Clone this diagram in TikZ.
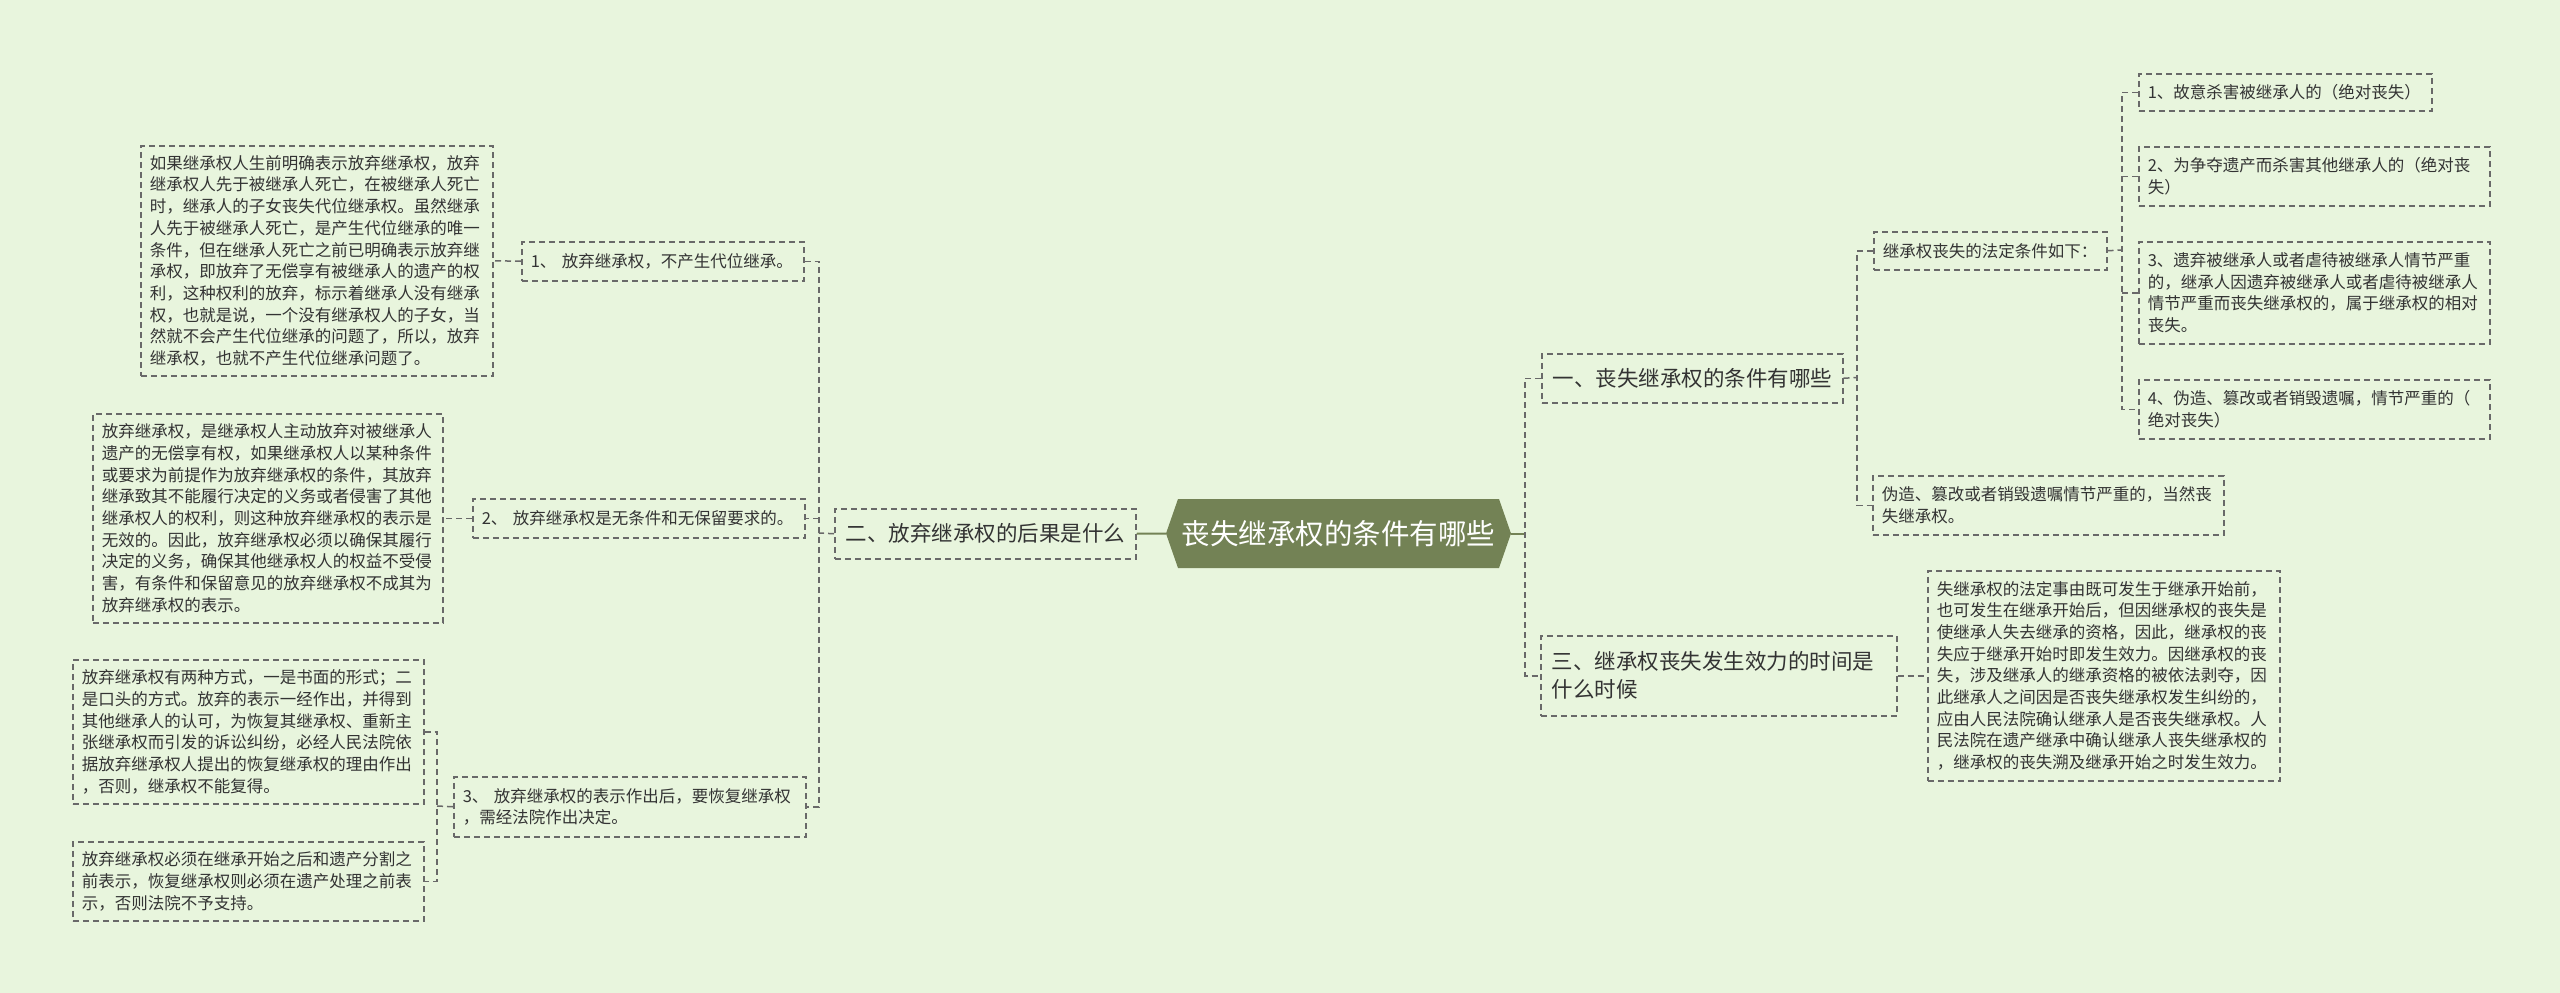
\documentclass[tikz,border=0pt]{standalone}
\usepackage{fontspec}
\setmainfont{Noto Sans CJK SC}
\definecolor{bgc}{RGB}{232,245,221}
\definecolor{hexc}{RGB}{115,130,85}
\definecolor{linec}{RGB}{105,105,105}
\definecolor{txt}{RGB}{51,51,51}
\begin{document}
\begin{tikzpicture}[x=1pt,y=-1pt,
  conn/.style={draw=linec, line width=1.5pt, dash pattern=on 6pt off 4pt},
  rootline/.style={draw=hexc, line width=2pt},
  bx/.style={draw=linec, line width=1.5pt, dash pattern=on 6pt off 4pt, anchor=north west, inner xsep=9pt, inner ysep=0pt, align=left, text=txt},
  sm/.style={bx, font=\fontsize{16.5}{21.7}\selectfont},
  md/.style={bx, inner xsep=11pt, font=\fontsize{21.5}{28}\selectfont}
]
\fill[bgc] (0,0) rectangle (2560,993);
\useasboundingbox (0,0) rectangle (2560,993);

% root
\fill[hexc] (1166,533.5) -- (1178,499) -- (1499,499) -- (1511,533.5) -- (1499,568) -- (1178,568) -- cycle;
\node[font=\fontsize{28.5}{34}\selectfont, text=white, minimum width=345pt, minimum height=69pt, inner sep=0pt] (root) at (1338.5,533.5) {丧失继承权的条件有哪些};

% left branch
\node[md, minimum width=301pt, minimum height=50pt, text width=279pt] (L) at (834,508) {二、放弃继承权的后果是什么};
\node[sm, minimum width=282pt, minimum height=39pt, text width=264pt] (L1) at (521,241) {1、~放弃继承权，不产生代位继承。};
\node[sm, minimum width=352pt, minimum height=230pt, text width=334pt] (L1c) at (140,145) {如果继承权人生前明确表示放弃继承权，放弃\\继承权人先于被继承人死亡，在被继承人死亡\\时，继承人的子女丧失代位继承权。虽然继承\\人先于被继承人死亡，是产生代位继承的唯一\\条件，但在继承人死亡之前已明确表示放弃继\\承权，即放弃了无偿享有被继承人的遗产的权\\利，这种权利的放弃，标示着继承人没有继承\\权，也就是说，一个没有继承权人的子女，当\\然就不会产生代位继承的问题了，所以，放弃\\继承权，也就不产生代位继承问题了。};
\node[sm, minimum width=332pt, minimum height=39pt, text width=314pt] (L2) at (472,498) {2、~放弃继承权是无条件和无保留要求的。};
\node[sm, minimum width=350pt, minimum height=209pt, text width=332pt] (L2c) at (92,413) {放弃继承权，是继承权人主动放弃对被继承人\\遗产的无偿享有权，如果继承权人以某种条件\\或要求为前提作为放弃继承权的条件，其放弃\\继承致其不能履行决定的义务或者侵害了其他\\继承权人的权利，则这种放弃继承权的表示是\\无效的。因此，放弃继承权必须以确保其履行\\决定的义务，确保其他继承权人的权益不受侵\\害，有条件和保留意见的放弃继承权不成其为\\放弃继承权的表示。};
\node[sm, minimum width=352pt, minimum height=60pt, text width=334pt] (L3) at (453,776) {3、~放弃继承权的表示作出后，要恢复继承权\\，需经法院作出决定。};
\node[sm, minimum width=351pt, minimum height=144pt, text width=333pt] (L3a) at (72,659) {放弃继承权有两种方式，一是书面的形式；二\\是口头的方式。放弃的表示一经作出，并得到\\其他继承人的认可，为恢复其继承权、重新主\\张继承权而引发的诉讼纠纷，必经人民法院依\\据放弃继承权人提出的恢复继承权的理由作出\\，否则，继承权不能复得。};
\node[sm, minimum width=351pt, minimum height=79pt, text width=333pt] (L3b) at (72,841) {放弃继承权必须在继承开始之后和遗产分割之\\前表示，恢复继承权则必须在遗产处理之前表\\示，否则法院不予支持。};

% right branch
\node[md, minimum width=301pt, minimum height=49pt, text width=279pt] (R1) at (1541,353) {一、丧失继承权的条件有哪些};
\node[md, minimum width=356pt, minimum height=80pt, text width=334pt] (R3) at (1540,635) {三、继承权丧失发生效力的时间是\\什么时候};
\node[sm, minimum width=352pt, minimum height=210pt, text width=334pt] (R3c) at (1927,570) {失继承权的法定事由既可发生于继承开始前，\\也可发生在继承开始后，但因继承权的丧失是\\使继承人失去继承的资格，因此，继承权的丧\\失应于继承开始时即发生效力。因继承权的丧\\失，涉及继承人的继承资格的被依法剥夺，因\\此继承人之间因是否丧失继承权发生纠纷的，\\应由人民法院确认继承人是否丧失继承权。人\\民法院在遗产继承中确认继承人丧失继承权的\\，继承权的丧失溯及继承开始之时发生效力。};
\node[sm, minimum width=233pt, minimum height=38pt, text width=215pt] (R1a) at (1873,231) {继承权丧失的法定条件如下：};
\node[sm, minimum width=351pt, minimum height=59pt, text width=333pt] (R1b) at (1872,475) {伪造、篡改或者销毁遗嘱情节严重的，当然丧\\失继承权。};
\node[sm, minimum width=293pt, minimum height=37pt, text width=275pt] (a1) at (2138,73) {1、故意杀害被继承人的（绝对丧失）};
\node[sm, minimum width=351pt, minimum height=59pt, text width=333pt] (a2) at (2138,146) {2、为争夺遗产而杀害其他继承人的（绝对丧\\失）};
\node[sm, minimum width=351pt, minimum height=102pt, text width=333pt] (a3) at (2138,241) {3、遗弃被继承人或者虐待被继承人情节严重\\的，继承人因遗弃被继承人或者虐待被继承人\\情节严重而丧失继承权的，属于继承权的相对\\丧失。};
\node[sm, minimum width=351pt, minimum height=59pt, text width=333pt] (a4) at (2138,379) {4、伪造、篡改或者销毁遗嘱，情节严重的（\\绝对丧失）};

% connectors left
\coordinate (tL) at (819,533);
\draw[rootline] (root.west) -- (L.east);
\draw[conn] (L.west) -- (tL);
\draw[conn] (L1.east) -| (tL) |- (L3.east);
\draw[conn] (tL |- L2.east) -- (L2.east);
\draw[conn] (L1.west) -- (L1c.east);
\draw[conn] (L2.west) -- (L2c.east);
\coordinate (tL3) at (437,806);
\draw[conn] (L3.west) -- (tL3);
\draw[conn] (L3a.east) -| (tL3) |- (L3b.east);

% connectors right
\coordinate (tR) at (1525,533.5);
\draw[rootline] (root.east) -- (tR);
\draw[conn] (R1.west) -| (tR) |- (R3.west);
\coordinate (tR1) at (1857,377.5);
\draw[conn] (R1.east) -- (tR1);
\draw[conn] (R1a.west) -| (tR1) |- (R1b.west);
\draw[conn] (R3.east) -- (R3c.west);
\coordinate (tA) at (2122,250);
\draw[conn] (R1a.east) -- (tA);
\draw[conn] (a1.west) -| (tA) |- (a4.west);
\draw[conn] (tA |- a2.west) -- (a2.west);
\draw[conn] (tA |- a3.west) -- (a3.west);
\end{tikzpicture}
\end{document}
